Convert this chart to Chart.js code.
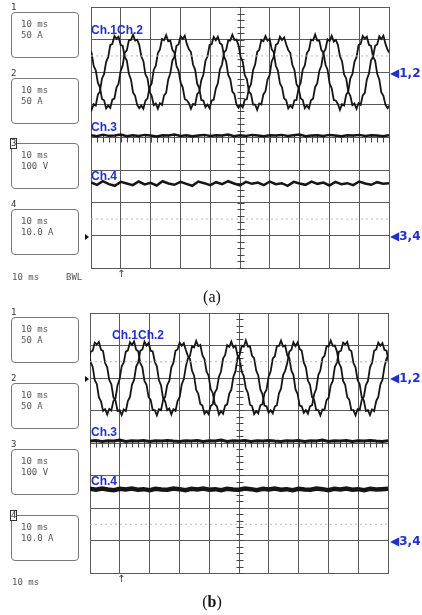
<!DOCTYPE html>
<html>
<head>
<meta charset="utf-8">
<script src="https://cdn.jsdelivr.net/npm/chart.js@4.4.1/dist/chart.umd.min.js"></script>
<style>
  body { margin:0; background:#fff; }
  #wrap { position:relative; width:422px; height:615px; overflow:hidden; }
  canvas { position:absolute; left:0; }
  .box { position:absolute; left:11px; width:68px; height:46px; border:1px solid #777; border-radius:4px;
         font-family:"DejaVu Sans Mono", monospace; font-size:9px; line-height:11px; color:#555;
         padding:6px 0 0 9px; box-sizing:border-box; }
  .num { position:absolute; left:10px; font-family:"DejaVu Sans Mono", monospace; font-size:9px; line-height:9px;
         color:#333; background:#fff; padding:0 1px; }
  .num.sel { border:1px solid #333; padding:0; }
  .foot { position:absolute; font-family:"DejaVu Sans Mono", monospace; font-size:9px; color:#555; }
  .blue { position:absolute; font-family:"Liberation Sans", Arial, sans-serif; font-weight:bold; font-size:12px;
          color:#2230c8; line-height:12px; }
  .mark { position:absolute; left:390px; font-family:"DejaVu Sans", sans-serif; font-weight:bold; font-size:12px;
          color:#2230c8; line-height:14px; }
  .tri { position:absolute; left:85px; width:0; height:0; border-left:4px solid #111;
         border-top:3px solid transparent; border-bottom:3px solid transparent; }
  .trig { position:absolute; left:117px; font-family:"DejaVu Sans", sans-serif; font-size:10px; color:#444; line-height:10px; }
  .cap { position:absolute; left:0; width:422px; text-align:center; font-family:"Liberation Serif", serif;
         font-size:16px; line-height:18px; color:#111; padding-left:2px; box-sizing:border-box; }
</style>
</head>
<body>
<div id="wrap">
  <canvas id="chartA" width="422" height="300" style="top:0"></canvas>
  <canvas id="chartB" width="422" height="300" style="top:306px"></canvas>

  <!-- panel (a) -->
  <div class="box" style="top:12px">10 ms<br>50 A</div><div class="num" style="top:3px">1</div>
  <div class="box" style="top:78px">10 ms<br>50 A</div><div class="num" style="top:69px">2</div>
  <div class="box" style="top:143px">10 ms<br>100 V</div><div class="num sel" style="top:138px">3</div>
  <div class="box" style="top:209px">10 ms<br>10.0 A</div><div class="num" style="top:200px">4</div>
  <div class="foot" style="left:12px;top:272px">10 ms</div>
  <div class="foot" style="left:66px;top:272px">BWL</div>
  <div class="blue" style="left:91px;top:24px">Ch.1Ch.2</div>
  <div class="blue" style="left:91px;top:121px">Ch.3</div>
  <div class="blue" style="left:91px;top:170px">Ch.4</div>
  <div class="mark" style="top:66px">◀1,2</div>
  <div class="mark" style="top:229px">◀3,4</div>
  <div class="tri" style="top:234px"></div>
  <div class="trig" style="top:269px">↑</div>
  <div class="cap" style="top:288px">(a)</div>

  <!-- panel (b) -->
  <div class="box" style="top:317px">10 ms<br>50 A</div><div class="num" style="top:308px">1</div>
  <div class="box" style="top:383px">10 ms<br>50 A</div><div class="num" style="top:374px">2</div>
  <div class="box" style="top:449px">10 ms<br>100 V</div><div class="num" style="top:440px">3</div>
  <div class="box" style="top:515px">10 ms<br>10.0 A</div><div class="num sel" style="top:510px">4</div>
  <div class="foot" style="left:12px;top:577px">10 ms</div>
  <div class="blue" style="left:112px;top:329px">Ch.1Ch.2</div>
  <div class="blue" style="left:91px;top:426px">Ch.3</div>
  <div class="blue" style="left:91px;top:475px">Ch.4</div>
  <div class="mark" style="top:371px">◀1,2</div>
  <div class="mark" style="top:534px">◀3,4</div>
  <div class="tri" style="top:376px"></div>
  <div class="trig" style="top:574px">↑</div>
  <div class="cap" style="top:593px">(<b>b</b>)</div>
</div>

<script>
// sample times (ms) of the sine traces
const timeMs = [
  -0.48, 0.21, 0.91, 1.60, 2.30, 2.99, 3.69, 4.38, 5.08, 5.77, 6.46, 7.16, 7.85, 8.55, 9.24, 9.94, 10.63, 11.33, 12.02, 12.71, 13.41, 14.10, 14.80, 15.49,
  16.19, 16.88, 17.58, 18.27, 18.97, 19.66, 20.36, 21.05, 21.75, 22.44, 23.13, 23.83, 24.52, 25.22, 25.91, 26.61, 27.30, 28.00, 28.69, 29.38, 30.08, 30.77, 31.47, 32.16,
  32.85, 33.54, 34.24, 34.93, 35.63, 36.32, 37.02, 37.71, 38.41, 39.10, 39.79, 40.49, 41.18, 41.88, 42.57, 43.27, 43.96, 44.66, 45.35, 46.04, 46.74, 47.43, 48.13, 48.82,
  49.52, 50.21, 50.91, 51.60, 52.30, 52.99, 53.69, 54.38, 55.08, 55.77, 56.46, 57.16, 57.85, 58.55, 59.24, 59.94, 60.63, 61.33, 62.02, 62.71, 63.41, 64.10, 64.80, 65.49,
  66.19, 66.88, 67.58, 68.27, 68.97, 69.66, 70.36, 71.05, 71.75, 72.44, 73.13, 73.83, 74.52, 75.22, 75.91, 76.61, 77.30, 78.00, 78.69, 79.38, 80.08, 80.77, 81.47, 82.16,
  82.85, 83.54, 84.24, 84.93, 85.63, 86.32, 87.02, 87.71, 88.41, 89.10, 89.79, 90.49, 91.18, 91.88, 92.57, 93.27, 93.96, 94.66, 95.35, 96.04, 96.74, 97.43, 98.13, 98.82,
  99.52, 100.21
];

// panel (a), values in divisions
const a_ch1 = [
  1.03, 0.85, 1.02, 0.98, 1.31, 1.41, 1.81, 1.94, 2.32, 2.46, 2.83, 2.87, 3.11, 3.03, 3.09, 2.84, 2.81, 2.47, 2.36, 1.95, 1.78, 1.38, 1.28, 1.00,
  0.90, 0.98, 0.88, 1.13, 1.20, 1.54, 1.66, 2.07, 2.20, 2.59, 2.70, 3.02, 2.98, 3.14, 2.95, 2.97, 2.69, 2.60, 2.19, 2.05, 1.68, 1.54, 1.18, 1.14,
  1.05, 0.88, 1.03, 1.00, 1.33, 1.40, 1.76, 1.92, 2.35, 2.49, 2.84, 2.86, 3.08, 2.98, 3.09, 2.89, 2.84, 2.48, 2.33, 1.92, 1.79, 1.41, 1.33, 1.01,
  0.91, 1.01, 0.92, 1.16, 1.17, 1.51, 1.63, 2.06, 2.24, 2.62, 2.69, 2.99, 2.95, 3.11, 2.97, 3.02, 2.71, 2.61, 2.20, 2.05, 1.66, 1.54, 1.20, 1.14,
  0.89, 0.98, 0.91, 1.14, 1.15, 1.52, 1.68, 2.08, 2.21, 2.59, 2.68, 3.00, 2.98, 3.16, 2.97, 2.97, 2.68, 2.60, 2.23, 2.08, 1.65, 1.51, 1.15, 1.13,
  1.03, 0.85, 1.02, 0.98, 1.31, 1.41, 1.81, 1.94, 2.32, 2.46, 2.83, 2.87, 3.11, 3.03, 3.09, 2.84, 2.81, 2.47, 2.36, 1.95, 1.78, 1.38, 1.28, 1.00,
  0.90, 0.98
];
const a_ch2 = [
  2.69, 2.59, 2.19, 2.06, 1.68, 1.54, 1.18, 1.14, 0.89, 0.98, 0.91, 1.16, 1.19, 1.53, 1.64, 2.04, 2.21, 2.60, 2.67, 2.98, 2.99, 3.15, 2.97, 3.00,
  2.84, 2.49, 2.34, 1.93, 1.81, 1.40, 1.28, 0.99, 1.04, 0.88, 1.05, 1.00, 1.29, 1.37, 1.78, 1.96, 2.36, 2.48, 2.81, 2.85, 3.10, 3.02, 3.12, 2.87,
  2.70, 2.62, 2.23, 2.09, 1.65, 1.51, 1.15, 1.13, 0.93, 1.01, 0.90, 1.13, 1.16, 1.50, 1.66, 2.09, 2.23, 2.61, 2.68, 2.98, 2.97, 3.15, 2.99, 3.00,
  2.82, 2.46, 2.33, 1.91, 1.79, 1.41, 1.33, 1.01, 1.01, 0.85, 1.04, 1.01, 1.32, 1.42, 1.78, 1.91, 2.33, 2.47, 2.84, 2.88, 3.09, 2.99, 3.07, 2.86,
  2.68, 2.59, 2.22, 2.07, 1.63, 1.52, 1.20, 1.15, 0.90, 0.98, 0.89, 1.14, 1.19, 1.55, 1.66, 2.04, 2.20, 2.60, 2.71, 3.01, 2.96, 3.12, 2.94, 2.99,
  2.84, 2.49, 2.34, 1.93, 1.81, 1.40, 1.28, 0.99, 1.04, 0.88, 1.05, 1.00, 1.29, 1.37, 1.78, 1.96, 2.36, 2.48, 2.81, 2.85, 3.10, 3.02, 3.12, 2.87,
  2.69, 2.59
];

// panel (b)
const b_ch1 = [
  2.47, 2.81, 2.84, 3.09, 3.03, 3.11, 2.87, 2.83, 2.46, 2.33, 1.94, 1.81, 1.41, 1.31, 0.99, 1.01, 0.86, 1.03, 0.98, 1.29, 1.42, 1.80, 1.94, 2.35,
  2.48, 2.84, 2.88, 3.12, 3.00, 3.08, 2.84, 2.82, 2.50, 2.36, 1.93, 1.78, 1.38, 1.28, 1.01, 1.06, 0.88, 1.04, 0.99, 1.29, 1.40, 1.80, 1.96, 2.35,
  2.60, 2.68, 2.98, 2.94, 3.14, 2.98, 3.02, 2.70, 2.58, 2.20, 2.07, 1.66, 1.54, 1.20, 1.13, 0.88, 0.98, 0.90, 1.15, 1.19, 1.52, 1.64, 2.04, 2.21,
  2.62, 2.71, 2.99, 2.96, 3.16, 2.97, 2.97, 2.68, 2.61, 2.23, 2.08, 1.65, 1.51, 1.15, 1.13, 0.93, 1.01, 0.91, 1.12, 1.16, 1.53, 1.67, 2.09, 2.22,
  2.46, 2.81, 2.87, 3.10, 2.98, 3.09, 2.89, 2.84, 2.47, 2.33, 1.92, 1.79, 1.41, 1.33, 1.01, 1.01, 0.85, 1.03, 1.02, 1.32, 1.39, 1.77, 1.91, 2.34,
  2.47, 2.81, 2.84, 3.09, 3.03, 3.11, 2.87, 2.83, 2.46, 2.33, 1.94, 1.81, 1.41, 1.31, 0.99, 1.01, 0.86, 1.03, 0.98, 1.29, 1.42, 1.80, 1.94, 2.35,
  2.60, 2.68
];
const b_ch2 = [
  2.84, 2.49, 2.34, 1.93, 1.81, 1.40, 1.28, 0.99, 1.04, 0.88, 1.05, 1.00, 1.29, 1.37, 1.78, 1.96, 2.36, 2.48, 2.81, 2.85, 3.10, 3.02, 3.12, 2.87,
  2.82, 2.46, 2.33, 1.91, 1.79, 1.41, 1.33, 1.01, 1.01, 0.85, 1.04, 1.01, 1.32, 1.42, 1.78, 1.91, 2.33, 2.47, 2.84, 2.88, 3.09, 2.99, 3.07, 2.86,
  2.68, 2.59, 2.22, 2.07, 1.63, 1.52, 1.20, 1.15, 0.90, 0.98, 0.89, 1.14, 1.19, 1.55, 1.66, 2.04, 2.20, 2.60, 2.71, 3.01, 2.96, 3.12, 2.94, 2.99,
  2.69, 2.59, 2.19, 2.06, 1.68, 1.54, 1.18, 1.14, 0.89, 0.98, 0.91, 1.16, 1.19, 1.53, 1.64, 2.04, 2.21, 2.60, 2.67, 2.98, 2.99, 3.15, 2.97, 3.00,
  2.70, 2.62, 2.23, 2.09, 1.65, 1.51, 1.15, 1.13, 0.93, 1.01, 0.90, 1.13, 1.16, 1.50, 1.66, 2.09, 2.23, 2.61, 2.68, 2.98, 2.97, 3.15, 2.99, 3.00,
  2.82, 2.46, 2.33, 1.91, 1.79, 1.41, 1.33, 1.01, 1.01, 0.85, 1.04, 1.01, 1.32, 1.42, 1.78, 1.91, 2.33, 2.47, 2.84, 2.88, 3.09, 2.99, 3.07, 2.86,
  2.84, 2.49
];

// flat traces, sampled every 2 ms
const flatTimeMs = [0,2,4,6,8,10,12,14,16,18,20,22,24,26,28,30,32,34,36,38,40,42,44,46,48,50,
  52,54,56,58,60,62,64,66,68,70,72,74,76,78,80,82,84,86,88,90,92,94,96,98,100];
const a_ch3 = [0.07,0.04,0.08,0.05,0.06,0.09,0.04,0.07,0.05,0.08,0.06,0.03,0.07,0.06,0.09,0.05,0.07,0.04,0.06,0.08,0.05,0.07,0.06,0.09,0.04,0.07,
  0.05,0.08,0.06,0.04,0.07,0.06,0.08,0.05,0.07,0.09,0.04,0.06,0.07,0.05,0.08,0.06,0.04,0.07,0.06,0.08,0.05,0.07,0.06,0.04,0.07];
const a_ch4 = [-1.38,-1.45,-1.34,-1.43,-1.48,-1.36,-1.41,-1.46,-1.35,-1.44,-1.39,-1.47,-1.34,-1.41,-1.45,-1.36,-1.42,-1.48,-1.35,-1.40,-1.46,-1.37,-1.43,-1.34,-1.41,-1.47,
  -1.36,-1.42,-1.38,-1.46,-1.35,-1.43,-1.40,-1.48,-1.36,-1.41,-1.45,-1.35,-1.42,-1.38,-1.47,-1.36,-1.43,-1.40,-1.46,-1.35,-1.41,-1.45,-1.37,-1.42,-1.40];
const b_ch3 = [0.06,0.08,0.05,0.07,0.06,0.09,0.05,0.07,0.06,0.08,0.05,0.07,0.06,0.08,0.06,0.05,0.07,0.06,0.08,0.05,0.07,0.06,0.09,0.05,0.07,0.06,
  0.08,0.05,0.07,0.06,0.08,0.06,0.05,0.07,0.06,0.08,0.05,0.07,0.06,0.09,0.05,0.07,0.06,0.08,0.05,0.07,0.06,0.08,0.06,0.05,0.07];
const b_ch4 = [-1.41,-1.44,-1.40,-1.43,-1.45,-1.41,-1.43,-1.40,-1.44,-1.42,-1.45,-1.41,-1.43,-1.44,-1.40,-1.42,-1.45,-1.41,-1.43,-1.40,-1.44,-1.42,-1.45,-1.41,-1.43,-1.44,
  -1.40,-1.42,-1.45,-1.41,-1.43,-1.40,-1.44,-1.42,-1.45,-1.41,-1.43,-1.44,-1.40,-1.42,-1.45,-1.41,-1.43,-1.40,-1.44,-1.42,-1.45,-1.41,-1.43,-1.42,-1.41];

// dotted reference levels
const refLevels = [2.5, -2.5];
const refTimeMs = [0, 100];

function pts(xs, ys){ return xs.map((x,i)=>({x:x, y:ys[i]})); }

function trace(xs, ys, w){
  return { data: pts(xs, ys), borderColor:'#151515', borderWidth:w, pointRadius:0, tension:0, clip:0 };
}

function refLine(level){
  return { data: pts(refTimeMs, refTimeMs.map(()=>level)), borderColor:'#b8b8b8', borderWidth:1,
           borderDash:[2,3], pointRadius:0, clip:0 };
}

// little tick marks on the centre cross, like the scope screen
const centreTicks = {
  id:'centreTicks',
  beforeDatasetsDraw(chart){
    const ctx = chart.ctx, xs = chart.scales.x, ys = chart.scales.y;
    const cx = Math.round(xs.getPixelForValue(50)) + 0.5;
    const cy = Math.round(ys.getPixelForValue(0)) + 0.5;
    ctx.save();
    ctx.strokeStyle = '#444';
    ctx.lineWidth = 1;
    ctx.beginPath();
    for(let v=-4; v<=4.001; v+=0.2){
      const y = Math.round(ys.getPixelForValue(v)) + 0.5;
      ctx.moveTo(cx-3, y); ctx.lineTo(cx+4, y);
    }
    for(let t=0; t<=100.001; t+=2){
      const x = Math.round(xs.getPixelForValue(t)) + 0.5;
      ctx.moveTo(x, cy-3); ctx.lineTo(x, cy+4);
    }
    ctx.stroke();
    ctx.restore();
  }
};

function makeChart(id, pad, sets){
  return new Chart(document.getElementById(id), {
    type:'line',
    data:{ datasets: sets },
    options:{
      responsive:false,
      animation:false,
      events:[],
      layout:{ padding: pad },
      plugins:{ legend:{display:false}, tooltip:{enabled:false} },
      scales:{
        x:{ type:'linear', min:0, max:100,
            ticks:{ display:false, stepSize:10 },
            grid:{ color:'#5a5a5a', lineWidth:1, drawTicks:false },
            border:{ color:'#5a5a5a', width:1 } },
        y:{ type:'linear', min:-4, max:4,
            ticks:{ display:false, stepSize:1 },
            grid:{ color:'#5a5a5a', lineWidth:1, drawTicks:false },
            border:{ color:'#5a5a5a', width:1 } }
      }
    },
    plugins:[centreTicks]
  });
}

makeChart('chartA', {left:91, top:7, right:33, bottom:32}, [
  refLine(refLevels[0]), refLine(refLevels[1]),
  trace(flatTimeMs, a_ch3, 2.5),
  trace(flatTimeMs, a_ch4, 2.5),
  trace(timeMs, a_ch1, 1.8),
  trace(timeMs, a_ch2, 1.8)
]);

makeChart('chartB', {left:90, top:7, right:34, bottom:33}, [
  refLine(refLevels[0]), refLine(refLevels[1]),
  trace(flatTimeMs, b_ch3, 3),
  trace(flatTimeMs, b_ch4, 4.5),
  trace(timeMs, b_ch1, 1.8),
  trace(timeMs, b_ch2, 1.8)
]);
</script>
</body>
</html>
